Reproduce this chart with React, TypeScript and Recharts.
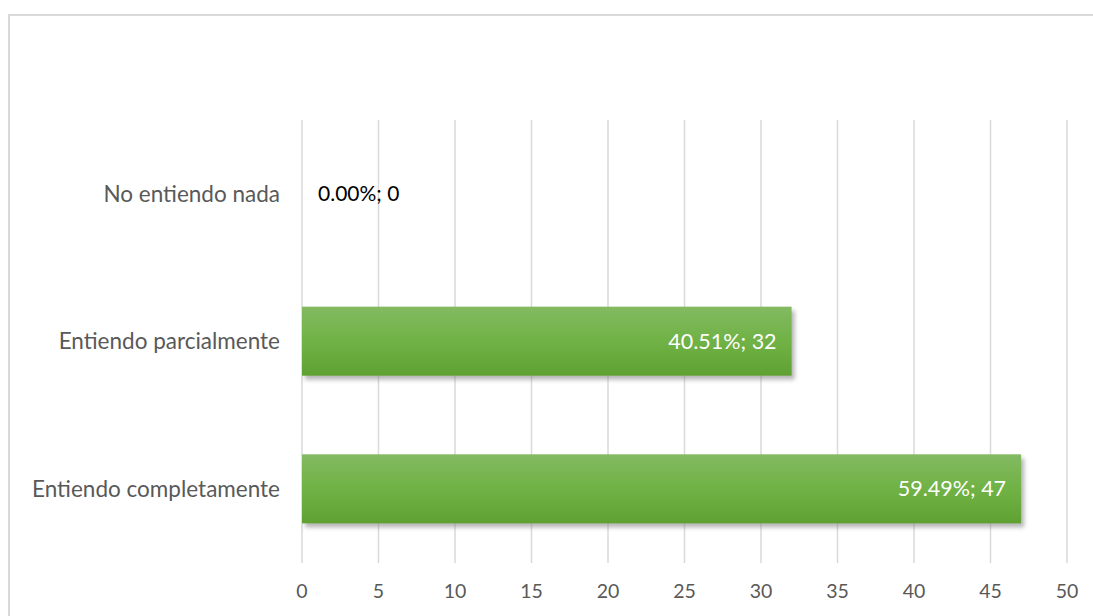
import React from "react";
import { BarChart, Bar, XAxis, YAxis, CartesianGrid, LabelList } from "recharts";

const categories = ["No entiendo nada", "Entiendo parcialmente", "Entiendo completamente"];
const counts = [0, 32, 47];
const xTicks = [0, 5, 10, 15, 20, 25, 30, 35, 40, 45, 50];

const total = counts.reduce((a, b) => a + b, 0);
const data = categories.map((name, i) => ({ name, value: counts[i] }));

const FONT = "Lato, 'Open Sans', sans-serif";

const ShadowBar = (props: any) => {
  const { x, y, width, height } = props;
  if (!width || width <= 0) return null;
  return (
    <g>
      <rect x={x + 3} y={y + 4} width={width} height={height} fill="#7a7a7a" opacity={0.55} filter="url(#barShadow)" />
      <rect x={x} y={y} width={width} height={height} fill="url(#greenGrad)" />
    </g>
  );
};

const renderLabel = (props: any) => {
  const { x, y, width, height, value } = props;
  const pct = total ? ((value / total) * 100).toFixed(2) : "0.00";
  const text = `${pct}%; ${value}`;
  const cy = y + height / 2;
  if (!value) {
    return (
      <text x={x + 16} y={cy} dy="0.35em" fill="#000000" fontSize={21} fontFamily={FONT} textAnchor="start">
        {text}
      </text>
    );
  }
  return (
    <text x={x + width - 15} y={cy} dy="0.35em" fill="#ffffff" fontSize={21.5} fontFamily={FONT} textAnchor="end">
      {text}
    </text>
  );
};

export default function App() {
  return (
    <div style={{ position: "absolute", left: 0, top: 0, width: 1093, height: 616, background: "#fff", overflow: "hidden" }}>
      <div
        style={{
          position: "absolute",
          left: 8,
          top: 14,
          width: 1200,
          height: 700,
          borderTop: "2px solid #d9d9d9",
          borderLeft: "2px solid #d9d9d9",
        }}
      />
      <div style={{ position: "absolute", left: 0, top: 0 }}>
        <BarChart
          width={1093}
          height={616}
          data={data}
          layout="vertical"
          margin={{ top: 120, right: 26, bottom: 0, left: 0 }}
          barSize={69}
        >
          <defs>
            <linearGradient id="greenGrad" x1="0" y1="0" x2="0" y2="1">
              <stop offset="0%" stopColor="#83ba62" />
              <stop offset="50%" stopColor="#70b245" />
              <stop offset="100%" stopColor="#5fa131" />
            </linearGradient>
            <filter id="barShadow" x="-10%" y="-20%" width="120%" height="150%">
              <feGaussianBlur stdDeviation="2" />
            </filter>
          </defs>
          <CartesianGrid horizontal={false} vertical={true} stroke="#d9d9d9" strokeWidth={1.5} />
          <XAxis
            type="number"
            domain={[0, 50]}
            ticks={xTicks}
            height={53}
            axisLine={false}
            tickLine={false}
            tickMargin={15}
            tick={{ fill: "#595959", fontSize: 19.5, fontFamily: FONT }}
          />
          <YAxis
            type="category"
            dataKey="name"
            width={302}
            axisLine={false}
            tickLine={false}
            tickMargin={16}
            tick={{ fill: "#595959", fontSize: 22.5, fontFamily: FONT }}
          />
          <Bar dataKey="value" isAnimationActive={false} shape={ShadowBar}>
            <LabelList dataKey="value" content={renderLabel} />
          </Bar>
        </BarChart>
      </div>
    </div>
  );
}
